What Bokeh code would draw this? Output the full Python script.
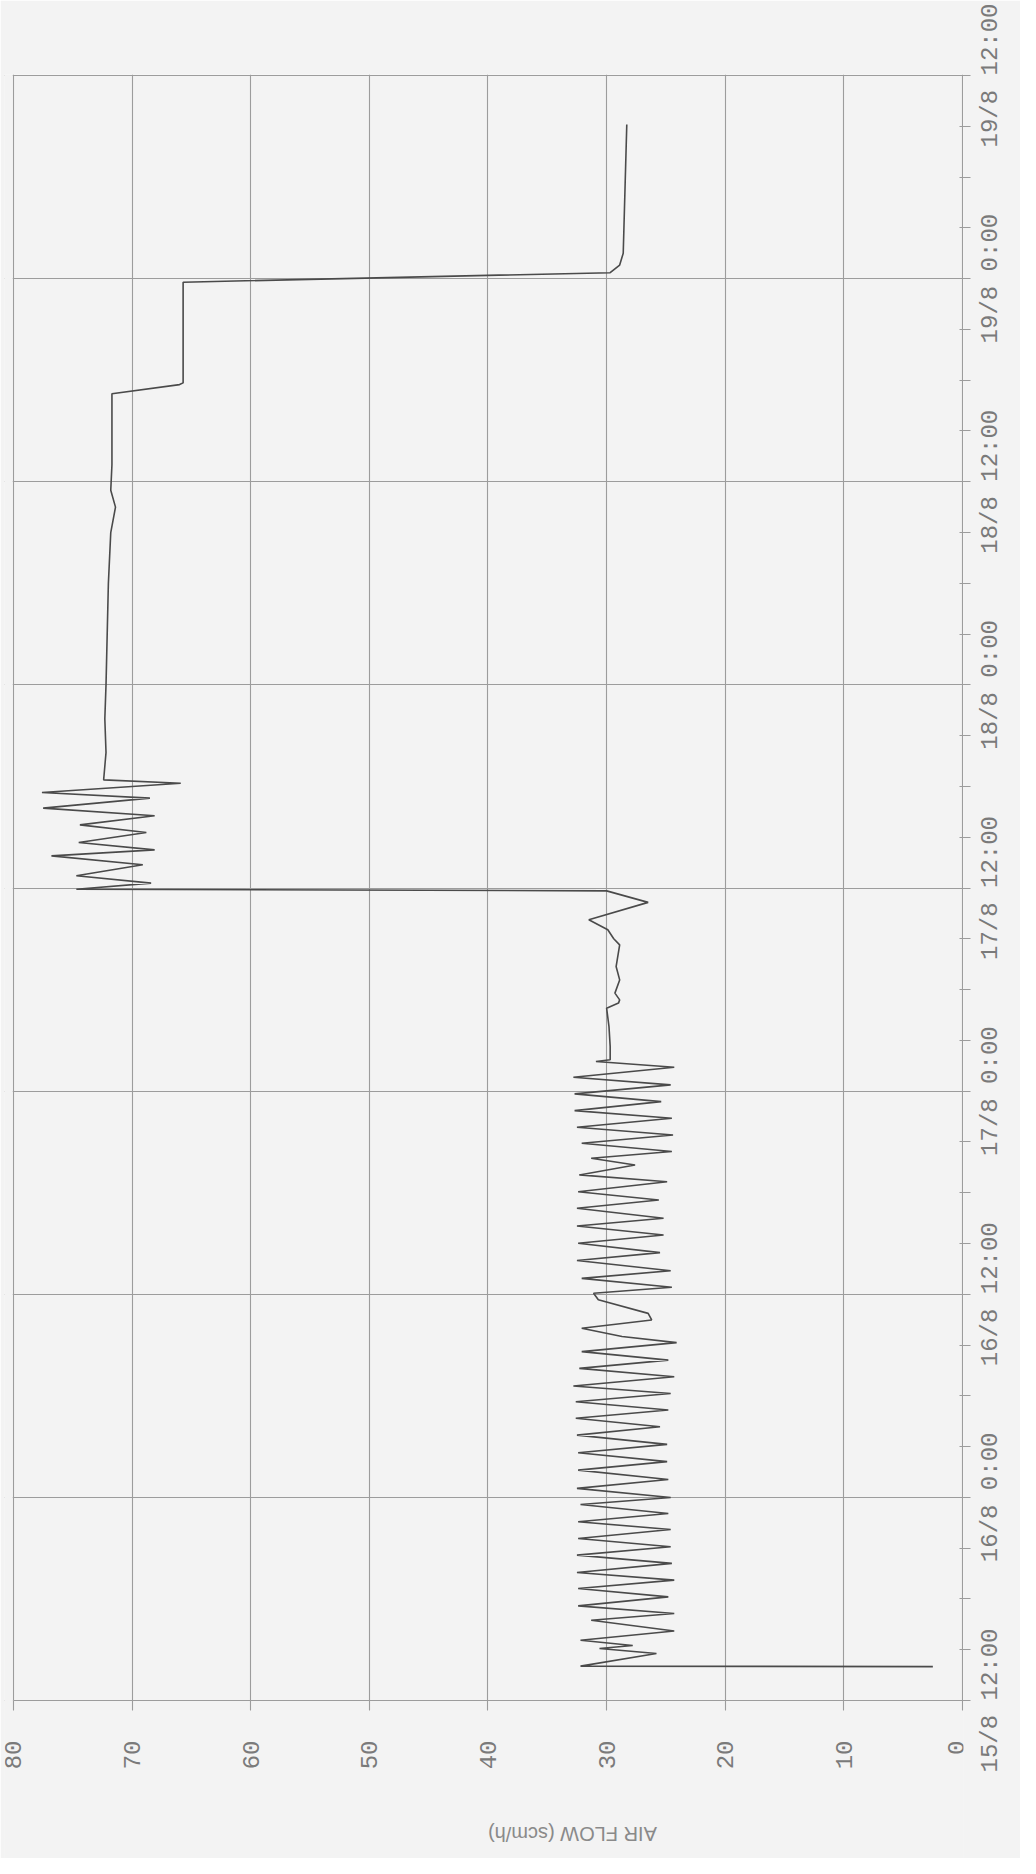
import math
from bokeh.plotting import figure
from bokeh.models import Range1d, FixedTicker, ColumnDataSource, BoxAnnotation
from bokeh.embed import file_html
from bokeh.resources import INLINE

# ---- data (time in hours after 15/8 12:00, air flow in scm/h) ----
hours = [
    2.00, 2.03, 2.78, 3.07, 3.25, 3.56, 4.11, 4.74, 5.14, 5.59,
    6.12, 6.62, 7.11, 7.56, 8.10, 8.59, 9.08, 9.57, 10.10, 10.56,
    11.05, 11.58, 11.99, 12.53, 13.06, 13.61, 14.11, 14.64, 15.13, 15.68,
    16.17, 16.67, 17.16, 17.65, 18.14, 18.58, 19.13, 19.62, 20.11, 20.61,
    21.14, 21.50, 21.99, 22.48, 22.87, 23.67, 24.06, 24.41, 24.94, 25.39,
    25.99, 26.46, 27.01, 27.50, 28.03, 28.49, 29.08, 29.57, 30.06, 30.65,
    31.05, 31.64, 32.03, 32.43, 32.92, 33.41, 33.87, 34.40, 34.85, 35.38,
    35.84, 36.37, 36.82, 37.41, 37.75, 37.85, 38.63, 39.81, 40.90, 41.20,
    41.39, 41.79, 42.57, 43.36, 44.64, 45.00, 45.53, 46.12, 47.15, 47.83,
    47.93, 48.29, 48.72, 49.37, 49.90, 50.25, 50.69, 51.28, 51.73, 52.27,
    52.72, 53.31, 53.64, 54.19, 54.39, 56.0, 58.0, 60.0, 63.0, 66.0,
    69.0, 70.5, 71.5, 73.0, 77.2, 77.74, 77.84, 83.79, 84.35, 84.8,
    85.5, 93.1,
]
air_flow = [
    2.5, 32.2, 25.8, 30.6, 27.8, 32.2, 24.3, 31.3, 24.3, 32.4,
    24.8, 32.4, 24.3, 32.5, 24.5, 32.5, 24.6, 32.4, 24.6, 32.4,
    24.8, 32.2, 24.6, 32.5, 24.8, 32.4, 24.9, 32.4, 24.9, 32.5,
    25.5, 32.6, 24.8, 32.6, 24.6, 32.8, 24.3, 32.3, 24.8, 32.1,
    24.1, 28.7, 32.1, 26.2, 26.5, 30.7, 31.1, 24.5, 32.1, 24.6,
    32.5, 25.5, 32.4, 25.2, 32.5, 25.2, 32.5, 25.6, 32.4, 24.9,
    32.3, 27.6, 31.3, 24.5, 32.1, 24.4, 32.5, 24.5, 32.7, 25.4,
    32.7, 24.6, 32.8, 24.3, 30.9, 29.7, 29.7, 29.8, 30.0, 29.0,
    28.9, 29.3, 28.9, 29.2, 28.9, 29.4, 29.9, 31.5, 26.5, 30.0,
    74.7, 68.4, 74.7, 69.1, 76.8, 68.1, 74.5, 68.8, 74.4, 68.1,
    77.5, 68.5, 77.6, 65.9, 72.4, 72.2, 72.3, 72.2, 72.1, 72.0,
    71.8, 71.4, 71.8, 71.7, 71.7, 66.0, 65.7, 65.7, 29.7, 28.9,
    28.6, 28.3,
]

flow_ticks = [0, 10, 20, 30, 40, 50, 60, 70, 80]
time_ticks = [0, 12, 24, 36, 48, 60, 72, 84, 96]
time_labels = ["15/8 12:00", "16/8 0:00", "16/8 12:00", "17/8 0:00",
               "17/8 12:00", "18/8 0:00", "18/8 12:00", "19/8 0:00",
               "19/8 12:00"]
time_minor = [3, 6, 9, 15, 18, 21, 27, 30, 33, 39, 42, 45, 51, 54, 57,
              63, 66, 69, 75, 78, 81, 87, 90, 93]
axis_title = "AIR FLOW (scm/h)"

paper = "#f3f3f3"
grid_col = "#9c9c9c"
text_col = "#7a7a7a"

# ---- layout (pixels) ----
W, H = 1020, 1858
B_LEFT, B_RIGHT, B_TOP = 4, 55, 74
span_w = 951                       # 0 .. 80 scm/h
span_h = 1625                      # 0 .. 96 h
px_per_flow = span_w / 80.0
px_per_hour = span_h / 96.0
left_strip = 9                     # frame room left of 80 (for its label)
x_start = 80 + left_strip / px_per_flow
x_end = -1.0 / px_per_flow
y_end = 96 + 1.0 / px_per_hour
y_start = y_end - (H - B_TOP) / px_per_hour   # frame reaches below t = 0
time_font_px = 24
char_w = 0.6 * time_font_px        # monospace advance

p = figure(width=W, height=H, output_backend="svg", toolbar_location=None,
           x_range=Range1d(x_start, x_end), y_range=Range1d(y_start, y_end),
           x_axis_location="below", y_axis_location="right",
           min_border_left=B_LEFT, min_border_right=B_RIGHT,
           min_border_top=B_TOP, min_border_bottom=0)

p.background_fill_color = paper
p.border_fill_color = paper
p.outline_line_color = None

# grids (the lines at 80 and 96 form the left / top edges, 0 the time axis)
p.xgrid.ticker = FixedTicker(ticks=flow_ticks)
p.ygrid.ticker = FixedTicker(ticks=time_ticks)
for g in (p.xgrid[0], p.ygrid[0]):
    g.grid_line_color = grid_col
    g.grid_line_width = 1.1

# keep the grid inside the chart area
p.add_layout(BoxAnnotation(top=0, fill_color=paper, fill_alpha=1.0,
                           line_color=None, level="underlay"))
p.add_layout(BoxAnnotation(left=80 + 0.7 / px_per_flow, right=x_start,
                           fill_color=paper, fill_alpha=1.0,
                           line_color=None, level="underlay"))

# value axis at t = 0: labels read upwards
zero_shift = 7.0 / px_per_flow     # keep the "0" inside the frame
label_ticks = [f + (zero_shift if f == 0 else 0) for f in flow_ticks]
xa = p.xaxis[0]
xa.fixed_location = 0
xa.bounds = (0, 80)
xa.ticker = FixedTicker(ticks=label_ticks, minor_ticks=flow_ticks)
xa.major_label_overrides = {lt: str(f) for lt, f in zip(label_ticks, flow_ticks)}
xa.major_label_orientation = math.pi / 2
xa.major_tick_in = 0
xa.major_tick_out = 10
xa.major_tick_line_color = None
xa.minor_tick_in = 0
xa.minor_tick_out = 10
xa.minor_tick_line_color = grid_col
xa.minor_tick_line_width = 1.1
xa.axis_line_color = grid_col
xa.axis_line_width = 1.2
xa.major_label_standoff = 30
xa.major_label_text_font = "Liberation Mono"
xa.major_label_text_font_size = "24px"
xa.major_label_text_color = text_col
xa.axis_label = axis_title
xa.axis_label_orientation = math.pi
xa.axis_label_standoff = 62
xa.axis_label_text_font = "Liberation Sans"
xa.axis_label_text_font_style = "normal"
xa.axis_label_text_font_size = "20px"
xa.axis_label_text_color = "#8a8a8a"

# time axis (right): labels read upwards and are centred on the 12 h lines
label_pos = [t - (len(s) * char_w / 2.0) / px_per_hour
             for t, s in zip(time_ticks, time_labels)]
ya = p.yaxis[0]
ya.ticker = FixedTicker(ticks=label_pos, minor_ticks=time_minor + time_ticks)
ya.major_label_overrides = {pos: s for pos, s in zip(label_pos, time_labels)}
ya.major_label_orientation = math.pi / 2
ya.major_tick_in = 0
ya.major_tick_out = 6
ya.major_tick_line_color = None
ya.minor_tick_in = 4
ya.minor_tick_out = 7
ya.minor_tick_line_color = grid_col
ya.minor_tick_line_width = 1.2
ya.axis_line_color = None          # the 0 grid line is the axis line
ya.major_label_standoff = 20
ya.major_label_text_font = "Liberation Mono"
ya.major_label_text_font_size = f"{time_font_px}px"
ya.major_label_text_color = text_col

src = ColumnDataSource(data=dict(flow=air_flow, hours=hours))
p.line(x="flow", y="hours", source=src, line_color="#4a4a4a", line_width=1.6)

html = file_html(p, INLINE)
html = html.replace("<body>", '<body style="background-color:#f3f3f3;">', 1)
open("out.html", "w").write(html)
